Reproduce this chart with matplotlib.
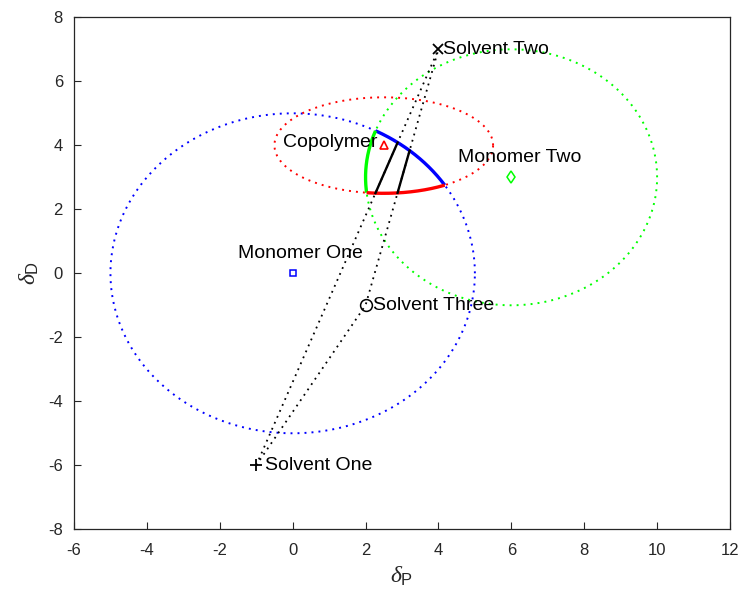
import numpy as np
import matplotlib
matplotlib.use("Agg")
import matplotlib.pyplot as plt

plt.rcParams['font.family'] = ['Liberation Sans', 'DejaVu Sans']
plt.rcParams['mathtext.fontset'] = 'custom'
plt.rcParams['mathtext.rm'] = 'Liberation Sans'
plt.rcParams['mathtext.it'] = 'Liberation Serif:italic'
plt.rcParams['mathtext.bf'] = 'Liberation Sans:bold'
plt.rcParams['axes.unicode_minus'] = False

# ---- data ----
# circles / ellipse: (cx, cy, rx, ry)
blue_shape = (0.0, 0.0, 5.0, 5.0)
green_shape = (6.0, 3.0, 4.0, 4.0)
red_shape = (2.5, 4.0, 3.0, 1.5)

point_names = ["Monomer One", "Monomer Two", "Copolymer",
               "Solvent One", "Solvent Two", "Solvent Three"]
point_x = [0.0, 6.0, 2.5, -1.0, 4.0, 2.0]
point_y = [0.0, 3.0, 4.0, -6.0, 7.0, -1.0]

label_x = [-1.5, 4.53, -0.27, -0.76, 4.12, 2.21]
label_y = [0.63, 3.63, 4.1, -6.0, 7.0, -1.0]

# solvent lines (dotted): One->Two, One->Three->Two
line_a_x = [-1.0, 4.0]
line_a_y = [-6.0, 7.0]
line_b_x = [-1.0, 2.0, 4.0]
line_b_y = [-6.0, -1.0, 7.0]

xticks = [-6, -4, -2, 0, 2, 4, 6, 8, 10, 12]
yticks = [-8, -6, -4, -2, 0, 2, 4, 6, 8]

# ---- helpers ----
def shape_pts(s, n=2000):
    t = np.linspace(0, 2*np.pi, n)
    return s[0] + s[2]*np.cos(t), s[1] + s[3]*np.sin(t)

def inside(s, x, y):
    return ((x - s[0])/s[2])**2 + ((y - s[1])/s[3])**2 <= 1.0 + 1e-9

fig = plt.figure(figsize=(7.42, 6.0), dpi=100)
ax = fig.add_axes([74/742, 1 - 529.3/600, 656/742, 512/600])

dot = (0, (1, 2.6))
for s, c in [(blue_shape, (0, 0, 1)), (red_shape, (1, 0, 0)), (green_shape, (0, 1, 0))]:
    x, y = shape_pts(s)
    ax.plot(x, y, color=c, lw=1.4, linestyle=dot)

ax.plot(line_a_x, line_a_y, color='k', lw=1.3, linestyle=dot)
ax.plot(line_b_x, line_b_y, color='k', lw=1.3, linestyle=dot)

# boundary arcs of the intersection region
shapes = [(blue_shape, (0, 0, 1)), (green_shape, (0, 1, 0)), (red_shape, (1, 0, 0))]
for i, (s, c) in enumerate(shapes):
    x, y = shape_pts(s, 20000)
    m = np.ones_like(x, dtype=bool)
    for j, (o, _) in enumerate(shapes):
        if j != i:
            m &= inside(o, x, y)
    xs = np.where(m, x, np.nan)
    ys = np.where(m, y, np.nan)
    ax.plot(xs, ys, color=c, lw=2.4, solid_capstyle='butt')

# solvent line portions inside the region
def seg_inside(xs_, ys_):
    px, py = [], []
    for k in range(len(xs_) - 1):
        t = np.linspace(0, 1, 5000)
        px.append(xs_[k] + (xs_[k+1] - xs_[k])*t)
        py.append(ys_[k] + (ys_[k+1] - ys_[k])*t)
        px.append([np.nan]); py.append([np.nan])
    px = np.concatenate(px); py = np.concatenate(py)
    m = np.ones_like(px, dtype=bool)
    for o, _ in shapes:
        m &= inside(o, px, py)
    return np.where(m, px, np.nan), np.where(m, py, np.nan)

for lx, ly in [(line_a_x, line_a_y), (line_b_x, line_b_y)]:
    sx, sy = seg_inside(lx, ly)
    ax.plot(sx, sy, color='k', lw=1.7)

# markers
ax.plot(point_x[0], point_y[0], 's', ms=4.3, mfc='none', mec=(0, 0, 1), mew=1.1)
ax.plot(point_x[1], point_y[1], 'd', ms=6, mfc='none', mec=(0, 1, 0), mew=1.1)
ax.plot(point_x[2], point_y[2], '^', ms=5.5, mfc='none', mec=(1, 0, 0), mew=1.2)
ax.plot(point_x[3], point_y[3], '+', ms=9, mec='k', mew=1.3)
ax.plot(point_x[4], point_y[4], 'x', ms=7.5, mec='k', mew=1.3)
ax.plot(point_x[5], point_y[5], 'o', ms=8.5, mfc='none', mec='k', mew=1.1)

for name, tx, ty in zip(point_names, label_x, label_y):
    ax.text(tx, ty, name, ha='left', va='center', fontsize=14, color='k')

ax.set_xlim(-6, 12)
ax.set_ylim(-8, 8)
ax.set_xticks(xticks)
ax.set_yticks(yticks)
ax.tick_params(direction='in', length=5, width=0.8, labelsize=12,
               colors=(0.15, 0.15, 0.15), top=False, right=False)
ax.tick_params(axis='x', pad=10)
ax.tick_params(axis='y', pad=8)
for sp in ax.spines.values():
    sp.set_color((0.15, 0.15, 0.15))
    sp.set_linewidth(0.9)

ax.set_xlabel(r'$\delta_{\mathrm{P}}$', fontsize=17, color=(0.15, 0.15, 0.15), labelpad=5)
ax.set_ylabel(r'$\delta_{\mathrm{D}}$', fontsize=17, color=(0.15, 0.15, 0.15), labelpad=5)

fig.savefig('out.png', dpi=100)
